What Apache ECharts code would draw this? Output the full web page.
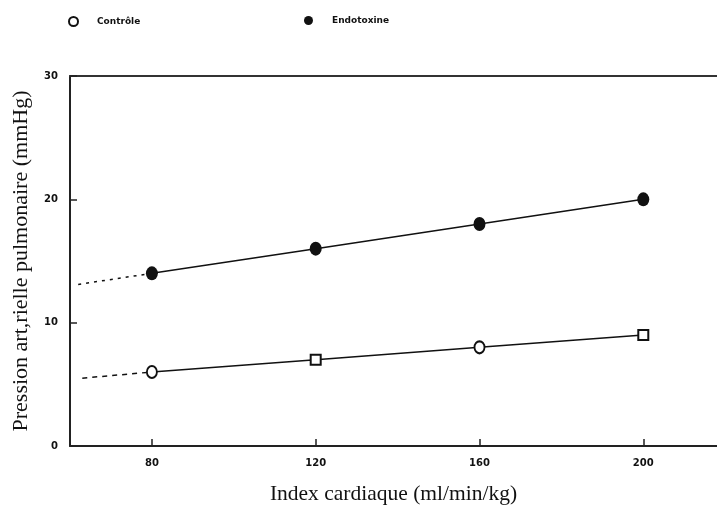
<!DOCTYPE html>
<html>
<head>
<meta charset="utf-8">
<script src="https://cdn.jsdelivr.net/npm/echarts@6/dist/echarts.min.js"></script>
<style>
  html, body { margin: 0; padding: 0; background: #fff; }
  #chart { width: 717px; height: 512px; }
</style>
</head>
<body>
<div id="chart"></div>
<script>
// Index cardiaque (ml/min/kg) at which pressure was measured
const indexCardiaque = [80, 120, 160, 200];
// Pression artérielle pulmonaire (mmHg)
const controle = [6, 7, 8, 9];
const endotoxine = [14, 16, 18, 20];
// marker shapes used for the control group points
const controleSymbols = ['emptyCircle', 'emptyRect', 'emptyCircle', 'emptyRect'];
// extrapolated part of each regression line, below the lowest measured index
const controleExtrapolation = [[63, 5.5], [80, 6]];
const endotoxineExtrapolation = [[62, 13.1], [80, 14]];
// axis ticks
const xTicks = [80, 120, 160, 200];
const yTicks = [0, 10, 20, 30];

const ink = '#111';
const tickFont = { fontFamily: 'DejaVu Sans', fontWeight: 'bold', fontSize: 10, color: ink };

const chart = echarts.init(document.getElementById('chart'), null, { renderer: 'canvas' });

const controlePoints = indexCardiaque.map((x, i) => ({
  value: [x, controle[i]],
  symbol: controleSymbols[i],
  symbolSize: controleSymbols[i] === 'emptyRect' ? 10 : [10, 12]
}));
const endotoxinePoints = indexCardiaque.map((x, i) => [x, endotoxine[i]]);

chart.setOption({
  animation: false,
  backgroundColor: '#fff',
  legend: [
    {
      data: [{ name: 'Contrôle', icon: 'emptyCircle' }],
      left: 63, top: 11,
      itemWidth: 9, itemHeight: 11,
      textStyle: { fontFamily: 'DejaVu Sans', fontSize: 9, fontWeight: 'bold', color: ink, padding: [0, 0, 0, 14] }
    },
    {
      data: [{ name: 'Endotoxine', icon: 'circle' }],
      left: 299, top: 11,
      itemWidth: 9, itemHeight: 12,
      textStyle: { fontFamily: 'DejaVu Sans', fontSize: 9, fontWeight: 'bold', color: ink, padding: [0, 0, 0, 14] }
    }
  ],
  grid: { left: 70, right: 0, top: 76, bottom: 66 },
  xAxis: [
    {
      type: 'value',
      min: 60, max: 218,
      name: 'Index cardiaque (ml/min/kg)',
      nameLocation: 'middle',
      nameGap: 37,
      nameTextStyle: { fontFamily: 'Liberation Serif', fontSize: 21.5, color: ink },
      axisLine: { show: true, onZero: false, lineStyle: { color: '#222', width: 2 } },
      axisTick: { show: true, inside: true, length: 7, customValues: xTicks, lineStyle: { color: '#222', width: 1.5 } },
      axisLabel: { customValues: xTicks, margin: 12, ...tickFont },
      splitLine: { show: false }
    },
    {
      type: 'value',
      position: 'top',
      min: 60, max: 218,
      axisLine: { show: true, onZero: false, lineStyle: { color: '#333', width: 2 } },
      axisTick: { show: false },
      axisLabel: { show: false },
      splitLine: { show: false }
    }
  ],
  yAxis: {
    type: 'value',
    min: 0, max: 30, interval: 10,
    name: 'Pression art,rielle pulmonaire (mmHg)',
    nameLocation: 'middle',
    nameGap: 38,
    nameTextStyle: { fontFamily: 'Liberation Serif', fontSize: 22, color: ink },
    axisLine: { show: true, onZero: false, lineStyle: { color: '#222', width: 2 } },
    axisTick: { show: true, inside: true, length: 7, customValues: yTicks, lineStyle: { color: '#222', width: 1.5 } },
    axisLabel: { margin: 12, ...tickFont },
    splitLine: { show: false }
  },
  series: [
    {
      name: 'Contrôle extrapolé',
      type: 'line',
      data: controleExtrapolation,
      symbol: 'none',
      lineStyle: { color: ink, width: 1.5, type: [5, 5] },
      z: 1
    },
    {
      name: 'Endotoxine extrapolée',
      type: 'line',
      data: endotoxineExtrapolation,
      symbol: 'none',
      lineStyle: { color: ink, width: 1.5, type: [3, 5] },
      z: 1
    },
    {
      name: 'Contrôle',
      type: 'line',
      data: controlePoints,
      itemStyle: { color: ink, borderWidth: 1.5 },
      lineStyle: { color: ink, width: 1.5 },
      z: 2
    },
    {
      name: 'Endotoxine',
      type: 'line',
      data: endotoxinePoints,
      symbol: 'circle',
      symbolSize: [12, 14],
      itemStyle: { color: ink },
      lineStyle: { color: ink, width: 1.5 },
      z: 2
    }
  ]
});
</script>
</body>
</html>
